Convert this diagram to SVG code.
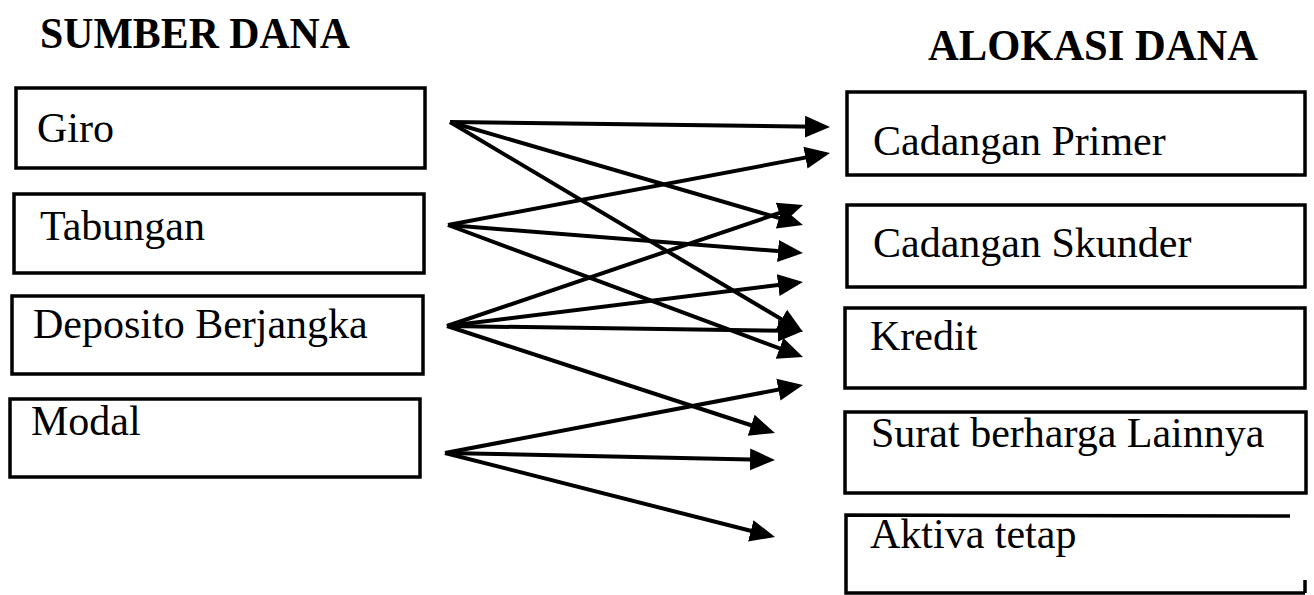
<svg xmlns="http://www.w3.org/2000/svg" width="1314" height="595" viewBox="0 0 1314 595">
  <style>
    .box { fill: none; stroke: #000; stroke-width: 3.5; }
    .link { stroke: #000; stroke-width: 4; fill: none; }
    .name { font-family: "Liberation Serif", serif; font-size: 42px; fill: #000; }
    .head { font-family: "Liberation Serif", serif; font-size: 44px; font-weight: bold; fill: #000; }
  </style>
  <defs>
    <marker id="arrow" markerUnits="userSpaceOnUse" markerWidth="26" markerHeight="24" refX="12" refY="11" orient="auto" viewBox="0 0 26 22">
      <path d="M0,0 L25,11 L0,22 Z" fill="#000"/>
    </marker>
  </defs>
  <rect width="1314" height="595" fill="#fff"/>

  <!-- column headings -->
  <text class="head" x="40" y="48" textLength="310" lengthAdjust="spacingAndGlyphs">SUMBER DANA</text>
  <text class="head" x="928" y="60" textLength="330" lengthAdjust="spacingAndGlyphs">ALOKASI DANA</text>

  <!-- sources of funds -->
  <g id="giro">
    <rect class="box" x="16" y="88" width="409" height="80"/>
    <g><text class="name" x="37" y="142">Giro</text></g>
  </g>
  <g id="tabungan">
    <rect class="box" x="14" y="194" width="410" height="79"/>
    <g><text class="name" x="40" y="240">Tabungan</text></g>
  </g>
  <g id="deposito">
    <rect class="box" x="12" y="296" width="411" height="78"/>
    <g><text class="name" x="33" y="338">Deposito Berjangka</text></g>
  </g>
  <g id="modal">
    <rect class="box" x="10" y="399" width="410" height="78"/>
    <g><text class="name" x="31" y="435">Modal</text></g>
  </g>

  <!-- allocation of funds -->
  <g id="cadangan-primer">
    <rect class="box" x="847" y="92" width="458" height="83"/>
    <g><text class="name" x="873" y="155">Cadangan Primer</text></g>
  </g>
  <g id="cadangan-skunder">
    <rect class="box" x="847" y="205" width="458" height="82"/>
    <g><text class="name" x="873" y="257">Cadangan Skunder</text></g>
  </g>
  <g id="kredit">
    <rect class="box" x="845" y="308" width="460" height="80"/>
    <g><text class="name" x="870" y="350">Kredit</text></g>
  </g>
  <g id="surat-berharga">
    <rect class="box" x="845" y="412" width="461" height="81"/>
    <g><text class="name" x="871" y="447">Surat berharga Lainnya</text></g>
  </g>
  <g id="aktiva-tetap">
    <path class="box" d="M1290,516 L846,515 L846,593 L1305,593 M1305,580 L1305,593"/>
    <g><text class="name" x="870" y="548">Aktiva tetap</text></g>
  </g>

  <!-- flows from sources to allocations -->
  <g id="connectors">
    <line class="link" marker-end="url(#arrow)" x1="450" y1="122" x2="817" y2="126.8"/>
    <line class="link" marker-end="url(#arrow)" x1="450" y1="122" x2="790.5" y2="221.3"/>
    <line class="link" marker-end="url(#arrow)" x1="450" y1="122" x2="791.8" y2="325.4"/>

    <line class="link" marker-end="url(#arrow)" x1="448" y1="225" x2="817.2" y2="155.4"/>
    <line class="link" marker-end="url(#arrow)" x1="448" y1="225" x2="790" y2="252"/>
    <line class="link" marker-end="url(#arrow)" x1="448" y1="225" x2="790.8" y2="352.5"/>

    <line class="link" marker-end="url(#arrow)" x1="447" y1="326" x2="790.7" y2="209.2"/>
    <line class="link" marker-end="url(#arrow)" x1="447" y1="326" x2="790.1" y2="283.6"/>
    <line class="link" marker-end="url(#arrow)" x1="447" y1="326" x2="790" y2="330.8"/>
    <line class="link" marker-end="url(#arrow)" x1="447" y1="326" x2="762.6" y2="429"/>

    <line class="link" marker-end="url(#arrow)" x1="445" y1="453" x2="790.2" y2="387.4"/>
    <line class="link" marker-end="url(#arrow)" x1="445" y1="453" x2="762" y2="459.7"/>
    <line class="link" marker-end="url(#arrow)" x1="445" y1="453" x2="762.4" y2="533.8"/>
  </g>
</svg>
